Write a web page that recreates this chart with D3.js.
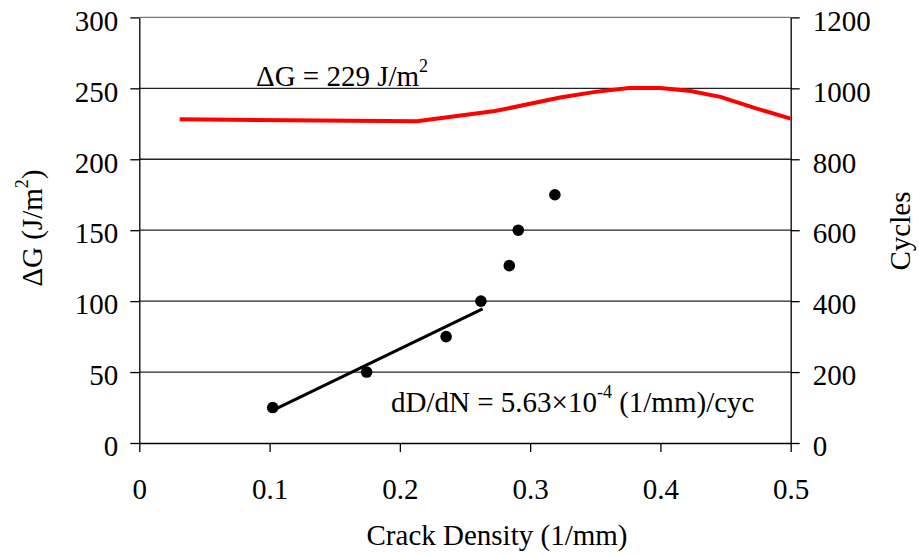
<!DOCTYPE html>
<html>
<head>
<meta charset="utf-8">
<script src="https://cdn.jsdelivr.net/npm/d3@7"></script>
<style>
  html, body { margin: 0; padding: 0; background: #fff; }
  svg text { font-family: "Liberation Serif", "Times New Roman", Tinos, "DejaVu Serif", serif; fill: #000; }
</style>
</head>
<body>
<svg id="chart" width="919" height="555" font-family="Liberation Serif, Times New Roman, DejaVu Serif, serif"></svg>
<script>
// Energy release rate ΔG (left axis) against crack density
const dgDensity = [0.031, 0.213, 0.273, 0.323, 0.35, 0.376, 0.40, 0.423, 0.446, 0.474, 0.5];
const dgValues  = [228.2, 226.8, 234.0, 243.5, 247.5, 250.2, 250.2, 248.1, 244.0, 235.7, 228.7];

// Measured crack density at each cycle count (right axis)
const cycleDensity = [0.1024, 0.1745, 0.2355, 0.2622, 0.284, 0.2909, 0.319];
const cycleCounts  = [100, 200, 300, 400, 500, 600, 700];

// Linear fit of the early growth, dD/dN = 5.63e-4 (1/mm)/cycle
const fitRate = 5.63e-4;
const fitDensity = [0.104, 0.2635];
const fitStartCycles = 95;

// Axis ticks
const xTicks = [0, 0.1, 0.2, 0.3, 0.4, 0.5];
const leftTicks = [0, 50, 100, 150, 200, 250, 300];
const rightTicks = [0, 200, 400, 600, 800, 1000, 1200];

const svg = d3.select("#chart");
const plot = { left: 139.3, right: 790.7, top: 17.4, bottom: 443 };

const x = d3.scaleLinear().domain([0, 0.5]).range([plot.left, plot.right]);
const yL = d3.scaleLinear().domain([0, 300]).range([plot.bottom, plot.top]);
const yR = d3.scaleLinear().domain([0, 1200]).range([plot.bottom, plot.top]);

const fontSize = 29;
const supSize = 18;
const supShift = 14;
const serif = "'Liberation Serif', 'Times New Roman', 'DejaVu Serif', serif";

// Horizontal gridlines
svg.append("g").selectAll("line")
  .data(leftTicks.filter(d => d > 0))
  .join("line")
  .attr("x1", plot.left).attr("x2", plot.right)
  .attr("y1", d => yL(d)).attr("y2", d => yL(d))
  .attr("stroke", d => d === 300 ? "#777" : "#222")
  .attr("stroke-width", 1.3);

// Left axis
const leftAxis = svg.append("g")
  .attr("transform", `translate(${plot.left},0)`)
  .call(d3.axisLeft(yL).tickValues(leftTicks).tickFormat(d3.format("d"))
        .tickSize(9).tickPadding(12).tickSizeOuter(0));

// Right axis
const rightAxis = svg.append("g")
  .attr("transform", `translate(${plot.right},0)`)
  .call(d3.axisRight(yR).tickValues(rightTicks).tickFormat(d3.format("d"))
        .tickSize(9).tickPadding(13).tickSizeOuter(0));

// Bottom axis
const bottomAxis = svg.append("g")
  .attr("transform", `translate(0,${plot.bottom})`)
  .call(d3.axisBottom(x).tickValues(xTicks).tickFormat(d => d === 0 ? "0" : d3.format(".1f")(d))
        .tickSize(9).tickPadding(26).tickSizeOuter(0));

[leftAxis, rightAxis, bottomAxis].forEach(g => {
  g.attr("font-family", serif).attr("font-size", fontSize);
  g.select(".domain").attr("stroke", "#000").attr("stroke-width", 1.3);
  g.selectAll(".tick line").attr("stroke", "#000").attr("stroke-width", 1.3);
  g.selectAll(".tick text")
    .style("font-family", serif)
    .attr("font-size", fontSize).attr("fill", "#000");
});
leftAxis.selectAll(".tick text").attr("dy", "0.44em");
rightAxis.selectAll(".tick text").attr("dy", "0.44em");

// ΔG curve
svg.append("path")
  .datum(dgDensity.map((d, i) => [d, dgValues[i]]))
  .attr("fill", "none")
  .attr("stroke", "#ff0000")
  .attr("stroke-width", 4)
  .attr("stroke-linejoin", "round")
  .attr("d", d3.line().x(d => x(d[0])).y(d => yL(d[1])));

// Fit line
svg.append("path")
  .datum(fitDensity.map(d => [d, fitStartCycles + (d - fitDensity[0]) / fitRate]))
  .attr("fill", "none")
  .attr("stroke", "#000")
  .attr("stroke-width", 3)
  .attr("d", d3.line().x(d => x(d[0])).y(d => yR(d[1])));

// Cycle measurements
svg.append("g").selectAll("circle")
  .data(cycleDensity.map((d, i) => [d, cycleCounts[i]]))
  .join("circle")
  .attr("cx", d => x(d[0]))
  .attr("cy", d => yR(d[1]))
  .attr("r", 5.8)
  .attr("fill", "#000");

// Annotations
const a1 = svg.append("text").attr("x", 256).attr("y", 86).attr("font-size", fontSize).style("font-family", serif);
a1.append("tspan").text("ΔG = 229 J/m");
a1.append("tspan").attr("dy", -supShift).attr("font-size", supSize).text("2");

const a2 = svg.append("text").attr("x", 391).attr("y", 412).attr("font-size", fontSize).style("font-family", serif);
a2.append("tspan").text("dD/dN = 5.63×10");
a2.append("tspan").attr("dy", -supShift).attr("font-size", supSize).text("-4");
a2.append("tspan").attr("dy", supShift).text(" (1/mm)/cyc");

// Axis titles
svg.append("text")
  .attr("x", 497).attr("y", 545)
  .attr("text-anchor", "middle")
  .attr("font-size", fontSize)
  .style("font-family", serif)
  .text("Crack Density (1/mm)");

const yt = svg.append("text")
  .attr("transform", "translate(42,228) rotate(-90)")
  .attr("text-anchor", "middle")
  .attr("font-size", fontSize)
  .style("font-family", serif);
yt.append("tspan").text("ΔG (J/m");
yt.append("tspan").attr("dy", -supShift).attr("font-size", supSize).text("2");
yt.append("tspan").attr("dy", supShift).text(")");

svg.append("text")
  .attr("transform", "translate(910,231) rotate(-90)")
  .attr("text-anchor", "middle")
  .attr("font-size", fontSize)
  .style("font-family", serif)
  .text("Cycles");
</script>
</body>
</html>
